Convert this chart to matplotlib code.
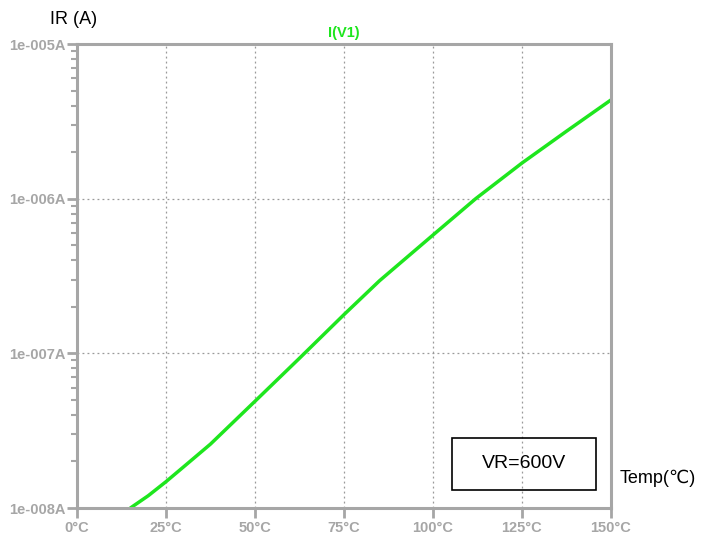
import matplotlib
matplotlib.use("Agg")
import matplotlib.pyplot as plt
from matplotlib.ticker import LogLocator, NullFormatter
from matplotlib.patches import Rectangle

plt.rcParams['font.family'] = ['Liberation Sans', 'DejaVu Sans']

# data (LTspice-style sweep)
temp = [15, 20, 25, 30, 37.5, 50, 62.5, 75, 85, 100, 112, 125, 137.5, 150]
ir = [1.0e-8, 1.2e-8, 1.48e-8, 1.85e-8, 2.59e-8, 4.9e-8, 9.3e-8, 1.78e-7,
      2.95e-7, 5.82e-7, 1.0e-6, 1.70e-6, 2.73e-6, 4.35e-6]

xticks = [0, 25, 50, 75, 100, 125, 150]
xlabels = ['0°C', '25°C', '50°C', '75°C', '100°C', '125°C', '150°C']
yticks = [1e-8, 1e-7, 1e-6, 1e-5]
ylabels = ['1e-008A', '1e-007A', '1e-006A', '1e-005A']

grey = '#a6a6a6'
green = '#1ee61e'

fig = plt.figure(figsize=(7.19, 5.38), dpi=100)
ax = fig.add_axes([77/719, 1-508/538, (611-77)/719, (508-44)/538])

ax.plot(temp, ir, color=green, lw=2.5, solid_capstyle='round',
        solid_joinstyle='round')
ax.set_yscale('log')
ax.set_xlim(0, 150)
ax.set_ylim(1e-8, 1e-5)

ax.set_xticks(xticks)
ax.set_xticklabels(xlabels)
ax.set_yticks(yticks)
ax.set_yticklabels(ylabels)
ax.yaxis.set_minor_locator(LogLocator(base=10, subs=range(2, 10)))
ax.yaxis.set_minor_formatter(NullFormatter())

for s in ax.spines.values():
    s.set_color(grey)
    s.set_linewidth(2.2)

ax.tick_params(axis='both', which='major', color=grey, width=2, length=7,
               labelcolor=grey, labelsize=10.5)
ax.tick_params(axis='y', which='minor', color=grey, width=1.5, length=4)
ax.tick_params(axis='x', pad=2)
ax.tick_params(axis='y', pad=1)
for lbl in ax.get_xticklabels() + ax.get_yticklabels():
    lbl.set_fontweight('bold')

ax.grid(True, which='major', color='#999999', ls=(0, (1.5, 2.5)), lw=0.9)

ax.set_title('I(V1)', color=green, fontsize=10.5, fontweight='bold', pad=5)

fig.text(50/719, 1-20/538, 'IR (A)', fontsize=13, va='center', ha='left')
fig.text(620/719, 1-478/538, 'Temp(℃)', fontsize=13, va='center', ha='left')

fig.patches.append(Rectangle((452/719, 1-490/538), 144/719, 52/538,
                             transform=fig.transFigure, fill=False,
                             edgecolor='black', lw=1.2))
fig.text(524/719, 1-464/538, 'VR=600V', fontsize=14, va='center', ha='center')

fig.savefig('out.png', dpi=100)
